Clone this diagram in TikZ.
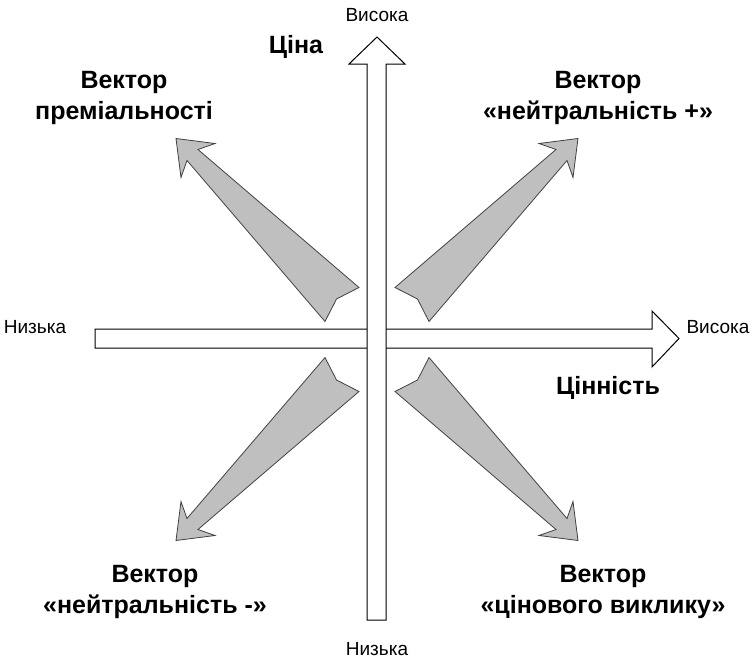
\documentclass[tikz,border=0pt]{standalone}
\usepackage{fontspec}
\setmainfont{Liberation Sans}
\tikzset{
  axis/.style={draw=black, fill=white, line width=1pt, line join=miter},
  vec/.style={draw=black!75, fill=black!25, line width=0.8pt, line join=miter},
  small/.style={font=\fontsize{19}{23}\selectfont, inner sep=0pt},
  big/.style={font=\fontsize{25}{31}\selectfont\bfseries, align=center, inner sep=0pt},
}
\begin{document}
\begin{tikzpicture}[x=1pt,y=-1pt]
\useasboundingbox (0,0) rectangle (753,664);
% axes
\draw[axis] (95,329) -- (652,329) -- (652,311) -- (679,338.5) -- (652,367) -- (652,348) -- (95,348) -- cycle;
\draw[axis] (367,620) -- (367,64) -- (349,64) -- (377,37) -- (405,64) -- (386,64) -- (386,620) -- cycle;
% vectors
\foreach \sx/\sy in {1/1,-1/1,1/-1,-1/-1}
  \draw[vec, shift={(377,339.5)}, xscale=\sx, yscale=\sy]
    (-201,-201) -- (-162,-196) -- (-179,-190) -- (-18,-52) -- (-40.5,-40.5)
    -- (-52,-18) -- (-190,-179) -- (-196,-162) -- cycle;
% axis labels
\node[small] (highv) at (377,15) {Висока};
\node[small] (lowv) at (377,649) {Низька};
\node[small] (lowh) at (35,327) {Низька};
\node[small] (highh) at (718,327) {Висока};
\node[big] (price) at (296,47) {Ціна};
\node[big] (value) at (608,388) {Цінність};
% vector labels
\node[big] (prem) at (124,97.5) {Вектор\\преміальності};
\node[big] (neutp) at (598,97.5) {Вектор\\«нейтральність +»};
\node[big] (neutm) at (155,591.5) {Вектор\\«нейтральність -»};
\node[big] (chal) at (603,591.5) {Вектор\\«цінового виклику»};
\end{tikzpicture}
\end{document}
